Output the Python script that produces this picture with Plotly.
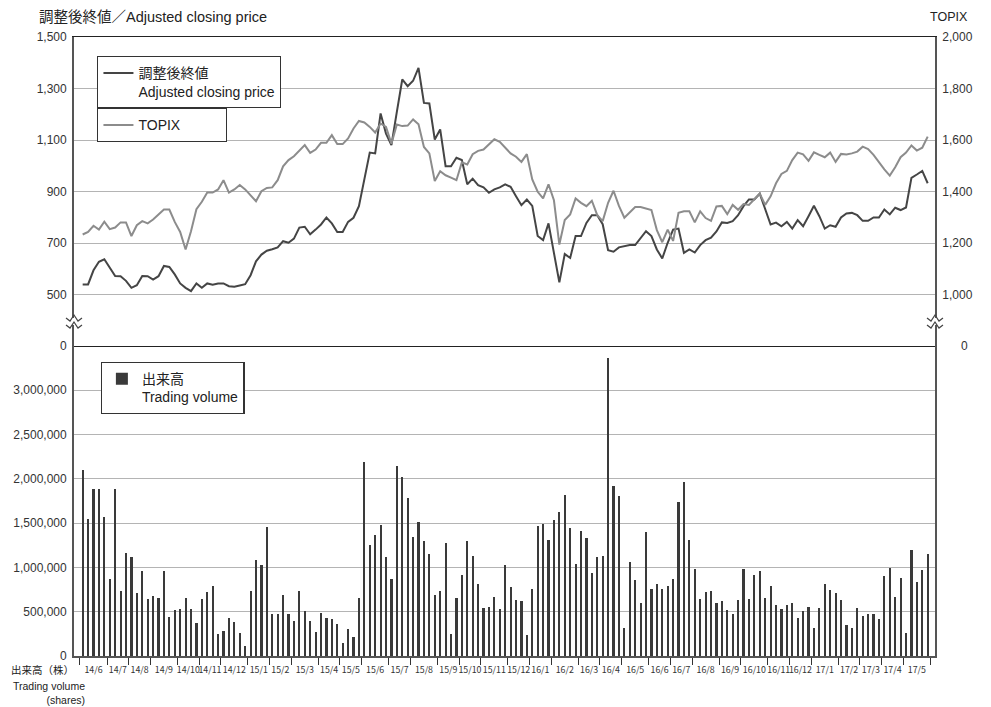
import plotly.graph_objects as go
from plotly.subplots import make_subplots

# month labels and number of weekly bars in each month (Jun 2014 - May 2017)
month_labels = ["14/6", "14/7", "14/8", "14/9", "14/10", "14/11", "14/12",
                "15/1", "15/2", "15/3", "15/4", "15/5", "15/6", "15/7", "15/8", "15/9", "15/10", "15/11", "15/12",
                "16/1", "16/2", "16/3", "16/4", "16/5", "16/6", "16/7", "16/8", "16/9", "16/10", "16/11", "16/12",
                "17/1", "17/2", "17/3", "17/4", "17/5"]
weeks_per_month = [5, 4, 4, 5, 4, 4, 5,
                   4, 4, 5, 4, 4, 5, 4, 5, 4, 4, 5, 4,
                   4, 5, 4, 4, 5, 4, 4, 5, 4, 5, 4, 4,
                   5, 4, 4, 4, 5]

# weekly adjusted closing price (yen)
price = [539, 539, 594, 627, 637, 605, 572, 571, 553, 526, 536, 572, 571, 558, 571, 611, 607, 578, 543, 526,
         513, 543, 526, 543, 538, 543, 543, 532, 530, 535, 540, 575, 629, 655, 670, 676, 683, 707, 701, 717,
         760, 763, 734, 752, 772, 799, 776, 743, 743, 782, 798, 843, 944, 1051, 1048, 1203, 1125, 1080, 1209, 1335,
         1309, 1330, 1380, 1244, 1242, 1102, 1141, 998, 998, 1031, 1022, 928, 950, 925, 916, 895, 908, 916, 928, 918,
         882, 847, 869, 844, 727, 711, 776, 655, 547, 657, 642, 727, 727, 778, 808, 808, 773, 672, 666, 683,
         688, 692, 692, 717, 746, 727, 675, 640, 701, 752, 756, 662, 675, 663, 692, 711, 721, 745, 780, 778,
         785, 808, 843, 869, 869, 892, 830, 772, 779, 765, 782, 756, 789, 765, 804, 845, 804, 756, 769, 763,
         799, 815, 817, 808, 786, 786, 799, 799, 830, 811, 837, 828, 838, 953, 966, 980, 932]

# weekly TOPIX
topix = [1233, 1243, 1267, 1252, 1283, 1254, 1260, 1280, 1280, 1227, 1269, 1285, 1276, 1291, 1311, 1330, 1330, 1282, 1243, 1175,
         1246, 1331, 1360, 1396, 1396, 1408, 1444, 1396, 1408, 1425, 1408, 1383, 1362, 1401, 1414, 1416, 1444, 1498, 1522, 1537,
         1560, 1580, 1550, 1563, 1589, 1589, 1619, 1584, 1584, 1606, 1645, 1674, 1668, 1651, 1629, 1664, 1651, 1586, 1660, 1654,
         1656, 1680, 1661, 1573, 1548, 1441, 1479, 1463, 1454, 1444, 1513, 1505, 1545, 1558, 1563, 1584, 1603, 1593, 1571, 1548,
         1535, 1515, 1545, 1447, 1399, 1373, 1428, 1366, 1194, 1289, 1311, 1373, 1356, 1343, 1364, 1308, 1285, 1356, 1403, 1344,
         1298, 1320, 1340, 1340, 1334, 1328, 1250, 1203, 1252, 1208, 1317, 1323, 1323, 1280, 1323, 1297, 1286, 1342, 1344, 1312,
         1348, 1329, 1351, 1348, 1370, 1391, 1348, 1381, 1432, 1468, 1480, 1522, 1551, 1544, 1519, 1552, 1542, 1533, 1551, 1515,
         1546, 1544, 1548, 1555, 1574, 1565, 1542, 1512, 1486, 1462, 1494, 1533, 1551, 1579, 1559, 1570, 1613]

# weekly trading volume (shares)
volume = [2098000, 1545000, 1880000, 1880000, 1568000, 865000, 1880000, 733000, 1158000, 1113000,
          707000, 962000, 643000, 673000, 658000, 959000, 436000, 519000, 530000, 650000,
          526000, 368000, 643000, 718000, 789000, 252000, 282000, 425000, 380000, 263000,
          117000, 737000, 1086000, 1023000, 1455000, 474000, 474000, 684000, 477000, 398000,
          733000, 511000, 395000, 271000, 485000, 425000, 414000, 357000, 143000, 308000,
          218000, 654000, 2195000, 1248000, 1365000, 1477000, 1117000, 865000, 2143000, 2026000,
          1786000, 1342000, 1508000, 1293000, 1154000, 692000, 733000, 1271000, 248000, 654000,
          910000, 1293000, 1128000, 808000, 541000, 553000, 669000, 530000, 1026000, 774000,
          635000, 620000, 241000, 752000, 1470000, 1485000, 1308000, 1538000, 1624000, 1816000,
          1447000, 1034000, 1406000, 1327000, 940000, 1120000, 1132000, 3365000, 1921000, 1812000,
          316000, 1064000, 857000, 598000, 1395000, 759000, 812000, 752000, 793000, 868000,
          1741000, 1962000, 1308000, 985000, 647000, 718000, 737000, 598000, 617000, 515000,
          470000, 632000, 977000, 647000, 910000, 955000, 650000, 793000, 579000, 534000,
          579000, 598000, 432000, 511000, 556000, 312000, 538000, 816000, 741000, 707000,
          628000, 350000, 316000, 541000, 455000, 474000, 474000, 421000, 898000, 992000,
          669000, 876000, 259000, 1192000, 835000, 966000, 1147000]

weeks = list(range(len(volume)))

# month boundaries and centres on the week axis
bounds = [-0.5]
for n in weeks_per_month:
    bounds.append(bounds[-1] + n)
centres = [(bounds[i] + bounds[i + 1]) / 2 for i in range(len(month_labels))]

sans = "Liberation Sans, Noto Sans CJK JP, sans-serif"

fig = make_subplots(rows=2, cols=1, shared_xaxes=True, vertical_spacing=0,
                    row_heights=[0.4992, 0.5008], specs=[[{"secondary_y": True}], [{}]])

fig.add_trace(go.Scatter(x=weeks, y=topix, mode="lines", name="TOPIX",
                         line=dict(color="#8c8c8c", width=2), legend="legend2"),
              row=1, col=1, secondary_y=True)
fig.add_trace(go.Scatter(x=weeks, y=price, mode="lines", name="調整後終値<br>Adjusted closing price",
                         line=dict(color="#454545", width=2), legend="legend"),
              row=1, col=1, secondary_y=False)
fig.add_trace(go.Bar(x=weeks, y=volume, name="出来高<br>Trading volume", width=0.4,
                     marker=dict(color="#3a3a3a", line=dict(width=0)), legend="legend3"),
              row=2, col=1)

fig.update_xaxes(range=[-1.6, 157.35], domain=[0, 1], showgrid=False, zeroline=False, automargin=False)
fig.update_yaxes(automargin=False)
fig.update_layout(
    xaxis=dict(showline=True, linecolor="#222", linewidth=1.3, mirror=True,
               showticklabels=False, ticks=""),
    xaxis2=dict(showline=True, linecolor="#555", linewidth=1.5,
                tickmode="array", tickvals=centres, ticktext=month_labels, ticks="", tickangle=0,
                tickfont=dict(family="Noto Sans CJK JP, sans-serif", size=8.8, color="#333"),
                ticklabelstandoff=5,
                minor=dict(tickmode="array", tickvals=bounds, ticks="outside", ticklen=7,
                           tickcolor="#333", tickwidth=1.3, showgrid=False)),
    yaxis=dict(range=[300, 1500], tickmode="array",
               tickvals=[300, 500, 700, 900, 1100, 1300, 1500],
               ticktext=["0", "500", "700", "900", "1,100", "1,300", "1,500"],
               showgrid=True, gridcolor="#b4b4b4", gridwidth=1.3, zeroline=False,
               showline=True, linecolor="#555", linewidth=1.8, ticks="", ticklabelstandoff=3,
               tickfont=dict(family=sans, size=12, color="#333")),
    yaxis2=dict(range=[800, 2000], tickmode="array",
                tickvals=[1000, 1200, 1400, 1600, 1800, 2000],
                ticktext=["1,000", "1,200", "1,400", "1,600", "1,800", "2,000"],
                showgrid=False, zeroline=False, showline=True, linecolor="#555", linewidth=1.8,
                ticks="", ticklabelstandoff=3, tickfont=dict(family=sans, size=12, color="#333")),
    yaxis3=dict(range=[0, 3500000], tickmode="array",
                tickvals=[0, 500000, 1000000, 1500000, 2000000, 2500000, 3000000],
                ticktext=["0", "500,000", "1,000,000", "1,500,000", "2,000,000", "2,500,000", "3,000,000"],
                showgrid=True, gridcolor="#b4b4b4", gridwidth=1.3, zeroline=False,
                showline=True, linecolor="#555", linewidth=1.8, mirror=True, ticks="",
                ticklabelstandoff=3, tickfont=dict(family=sans, size=12, color="#333")),
)

box = dict(bgcolor="white", bordercolor="#333", borderwidth=1.2,
           font=dict(family=sans, size=14, color="#222"), xanchor="left", yanchor="top",
           valign="top", itemwidth=30)
fig.update_layout(
    legend=dict(x=0.027, y=0.969, **box),
    legend2=dict(x=0.027, y=0.885, orientation="h", entrywidth=82, **box),
    legend3=dict(x=0.031, y=0.475, **box),
)

# axis break marks
shapes = []
for xp in (0, 1):
    dx = 8 / 861
    shapes.append(dict(type="rect", xref="paper", yref="paper", x0=xp - 3 / 861, x1=xp + 3 / 861,
                       y0=0.5347, y1=0.5460, fillcolor="white", line=dict(width=0), layer="above"))
    for yp in (0.5460, 0.5347):
        d = 3 / 619
        path = (f"M {xp - dx},{yp} L {xp - dx / 2},{yp - d} L {xp},{yp + d} "
                f"L {xp + dx / 2},{yp - d} L {xp + dx},{yp}")
        shapes.append(dict(type="path", xref="paper", yref="paper", path=path,
                           line=dict(color="#444", width=1.2), layer="above"))
fig.update_layout(shapes=shapes)

fig.add_annotation(text="調整後終値／Adjusted closing price", xref="paper", yref="paper",
                   x=-0.043, y=1.032, xanchor="left", yanchor="middle", showarrow=False,
                   font=dict(family=sans, size=14.5, color="#222"))
fig.add_annotation(text="TOPIX", xref="paper", yref="paper", x=1.0407, y=1.032,
                   xanchor="right", yanchor="middle", showarrow=False,
                   font=dict(family=sans, size=12.5, color="#222"))
# right-hand "0" of the price/TOPIX scale, right aligned like the reference
fig.add_annotation(text="0", xref="paper", yref="paper", x=1.0407, y=0.5008,
                   xanchor="right", yanchor="middle", showarrow=False,
                   font=dict(family=sans, size=12, color="#333"))
fig.add_annotation(text="出来高（株）", xref="paper", yref="paper", x=-0.0755, y=-0.0226,
                   xanchor="left", yanchor="middle", showarrow=False,
                   font=dict(family=sans, size=10.5, color="#222"))
fig.add_annotation(text="Trading volume<br>(shares)", xref="paper", yref="paper", x=-0.073, y=-0.035,
                   xanchor="left", yanchor="top", align="right", showarrow=False,
                   font=dict(family=sans, size=10.5, color="#222"))

# the page body adds an 8px offset, so margins are shifted to keep the plot box in place
fig.update_layout(width=991, height=707, margin=dict(l=66, r=64, t=29, b=59),
                  plot_bgcolor="white", paper_bgcolor="white", bargap=0, showlegend=True)

fig.write_html("out.html")
